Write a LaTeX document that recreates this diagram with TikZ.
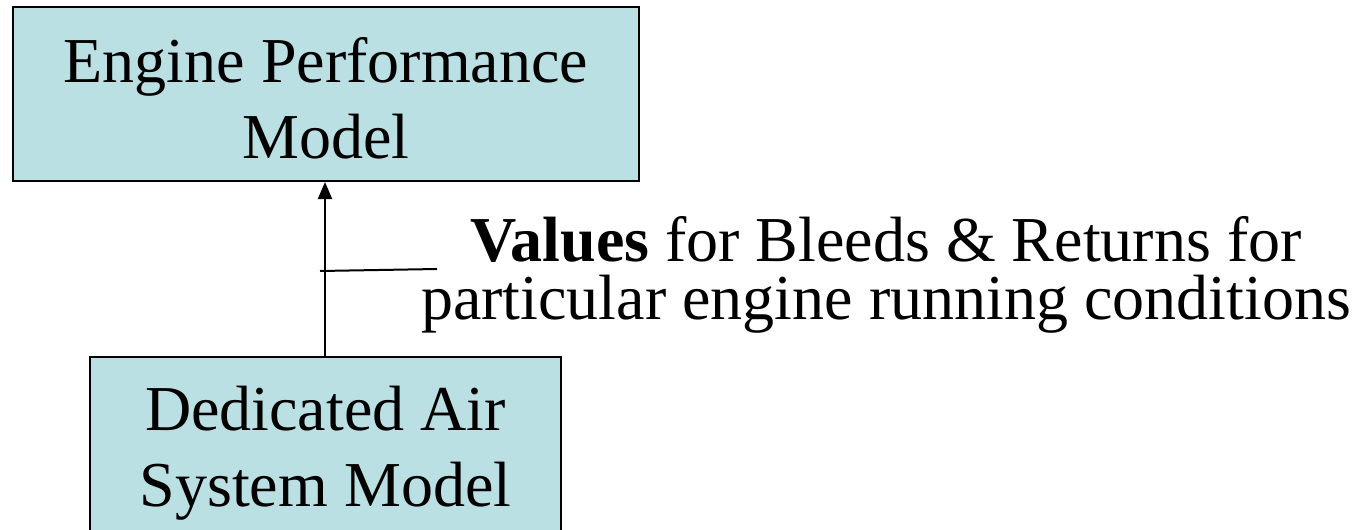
\documentclass[tikz,border=0pt]{standalone}
\usepackage{fontspec}
\setmainfont{Liberation Serif}
\usetikzlibrary{arrows.meta}
\definecolor{boxfill}{RGB}{187,224,227}
\tikzset{
  modelbox/.style={draw=black, line width=2pt, fill=boxfill, inner sep=0pt},
  boxtext/.style={align=center, inner sep=0pt, font=\fontsize{64}{76}\selectfont},
  labeltext/.style={align=center, inner sep=0pt, font=\fontsize{64}{58}\selectfont},
  flow/.style={line width=2pt, -{Triangle[width=14pt,length=17pt]}},
  leader/.style={line width=2pt}
}
\begin{document}
\begin{tikzpicture}[x=1pt,y=-1pt]
\useasboundingbox (0,0) rectangle (1360,530);
\clip (0,0) rectangle (1360,530);
\node[modelbox, minimum width=626pt, minimum height=174pt] (top) at (326,94) {};
\node[boxtext] (toptext) at (326,98) {Engine Performance\\Model};
\node[modelbox, minimum width=471pt, minimum height=190pt] (bottom) at (325.5,452) {};
\node[boxtext] (bottomtext) at (325.5,453) {Dedicated Air\\System Model};
\draw[flow] (bottom.north -| 325,0) -- (top.south -| 325,0);
\node[labeltext] (label) at (886,275) {\textbf{Values} for Bleeds \& Returns for\\particular engine running conditions};
\coordinate (leadstart) at (320,271);
\coordinate (leadend) at (437,269);
\draw[leader] (leadstart) -- (leadend);
\end{tikzpicture}
\end{document}
